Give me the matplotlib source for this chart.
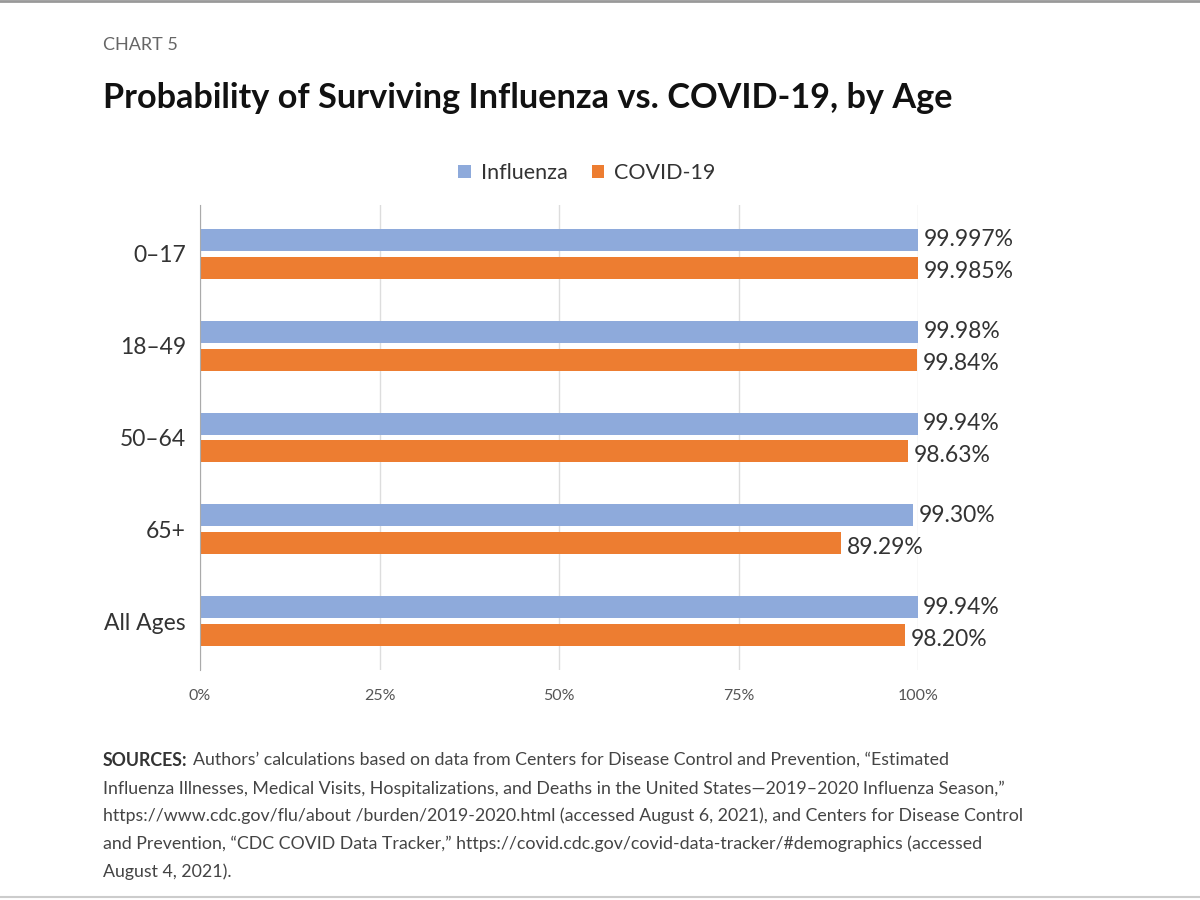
import matplotlib.pyplot as plt
import numpy as np
from matplotlib.lines import Line2D
from matplotlib.ticker import FuncFormatter

# data
ages = ['0\u201317', '18\u201349', '50\u201364', '65+', 'All Ages']
influenza = [99.997, 99.98, 99.94, 99.30, 99.94]
covid = [99.985, 99.84, 98.63, 89.29, 98.20]
influenza_labels = ['99.997%', '99.98%', '99.94%', '99.30%', '99.94%']
covid_labels = ['99.985%', '99.84%', '98.63%', '89.29%', '98.20%']
xticks = [0, 25, 50, 75, 100]

blue = '#8eaadb'
orange = '#ed7d31'
text_col = '#333333'

plt.rcParams['font.family'] = ['Lato', 'DejaVu Sans']

fig = plt.figure(figsize=(12, 9), dpi=100)
ax = fig.add_axes([200 / 1200, 1 - 670 / 900, 718 / 1200, 465 / 900])

y = np.arange(len(ages))
bar_h = 0.24
off = 0.152

ax.barh(y - off, influenza, bar_h, color=blue, label='Influenza', zorder=3)
ax.barh(y + off, covid, bar_h, color=orange, label='COVID-19', zorder=3)

for i in range(len(ages)):
    ax.annotate(influenza_labels[i], (influenza[i], y[i] - off), xytext=(4, 0),
                textcoords='offset points', va='center', ha='left',
                fontsize=16.5, color=text_col)
    ax.annotate(covid_labels[i], (covid[i], y[i] + off), xytext=(4, -3),
                textcoords='offset points', va='center', ha='left',
                fontsize=16.5, color=text_col)

ax.set_xlim(0, 100)
ax.set_ylim(4.53, -0.53)
ax.set_yticks(y)
ax.set_yticklabels(ages, fontsize=16.5, color=text_col)
ax.set_xticks(xticks)
ax.xaxis.set_major_formatter(FuncFormatter(lambda v, p: f'{v:.0f}%'))
ax.tick_params(axis='x', labelsize=11.5, colors='#555555', length=0, pad=14)
ax.tick_params(axis='y', length=0, pad=10)
ax.grid(axis='x', color='#dddddd', linewidth=1, zorder=0)
for s in ['top', 'right', 'bottom']:
    ax.spines[s].set_visible(False)
ax.spines['left'].set_color('#aaaaaa')
ax.spines['left'].set_zorder(4)

ax.legend(loc='center', bbox_to_anchor=(587 / 1200, 1 - 173 / 900),
          bbox_transform=fig.transFigure, ncol=2, frameon=False,
          fontsize=15.5, handlelength=0.6, handleheight=0.6,
          columnspacing=1.1, handletextpad=0.45, labelcolor=text_col)

fig.text(103 / 1200, 1 - 45 / 900, 'CHART 5', fontsize=13, color='#666666',
         va='center', ha='left')
fig.text(103 / 1200, 1 - 98 / 900,
         'Probability of Surviving Influenza vs. COVID-19, by Age',
         fontsize=24.7, fontweight='bold', color='#111111', va='center', ha='left')

source_lines = [
    'Authors\u2019 calculations based on data from Centers for Disease Control and Prevention, \u201cEstimated',
    'Influenza Illnesses, Medical Visits, Hospitalizations, and Deaths in the United States\u20142019\u20132020 Influenza Season,\u201d',
    'https://www.cdc.gov/flu/about /burden/2019-2020.html (accessed August 6, 2021), and Centers for Disease Control',
    'and Prevention, \u201cCDC COVID Data Tracker,\u201d https://covid.cdc.gov/covid-data-tracker/#demographics (accessed',
    'August 4, 2021).',
]
src_font = ['Liberation Sans Narrow', 'Lato', 'DejaVu Sans']
src_size = 12.8
src_y = [760, 789, 816, 844, 872]
t = fig.text(103 / 1200, 1 - src_y[0] / 900, 'SOURCES:', fontsize=src_size,
             fontweight='bold', color=text_col, va='center', ha='left', family=src_font)
fig.canvas.draw()
bb = t.get_window_extent()
fig.text((bb.x1 + 5) / 1200, 1 - src_y[0] / 900, source_lines[0], fontsize=src_size,
         color='#444444', va='center', ha='left', family=src_font)
for line, yy in zip(source_lines[1:], src_y[1:]):
    fig.text(103 / 1200, 1 - yy / 900, line, fontsize=src_size, color='#444444',
             va='center', ha='left', family=src_font)

# frame lines at top and bottom of the picture
fig.add_artist(Line2D([0, 1], [0.999, 0.999], color='#999999', linewidth=2))
fig.add_artist(Line2D([0, 1], [0.003, 0.003], color='#cccccc', linewidth=1.5))

fig.savefig('out.png', dpi=100)
